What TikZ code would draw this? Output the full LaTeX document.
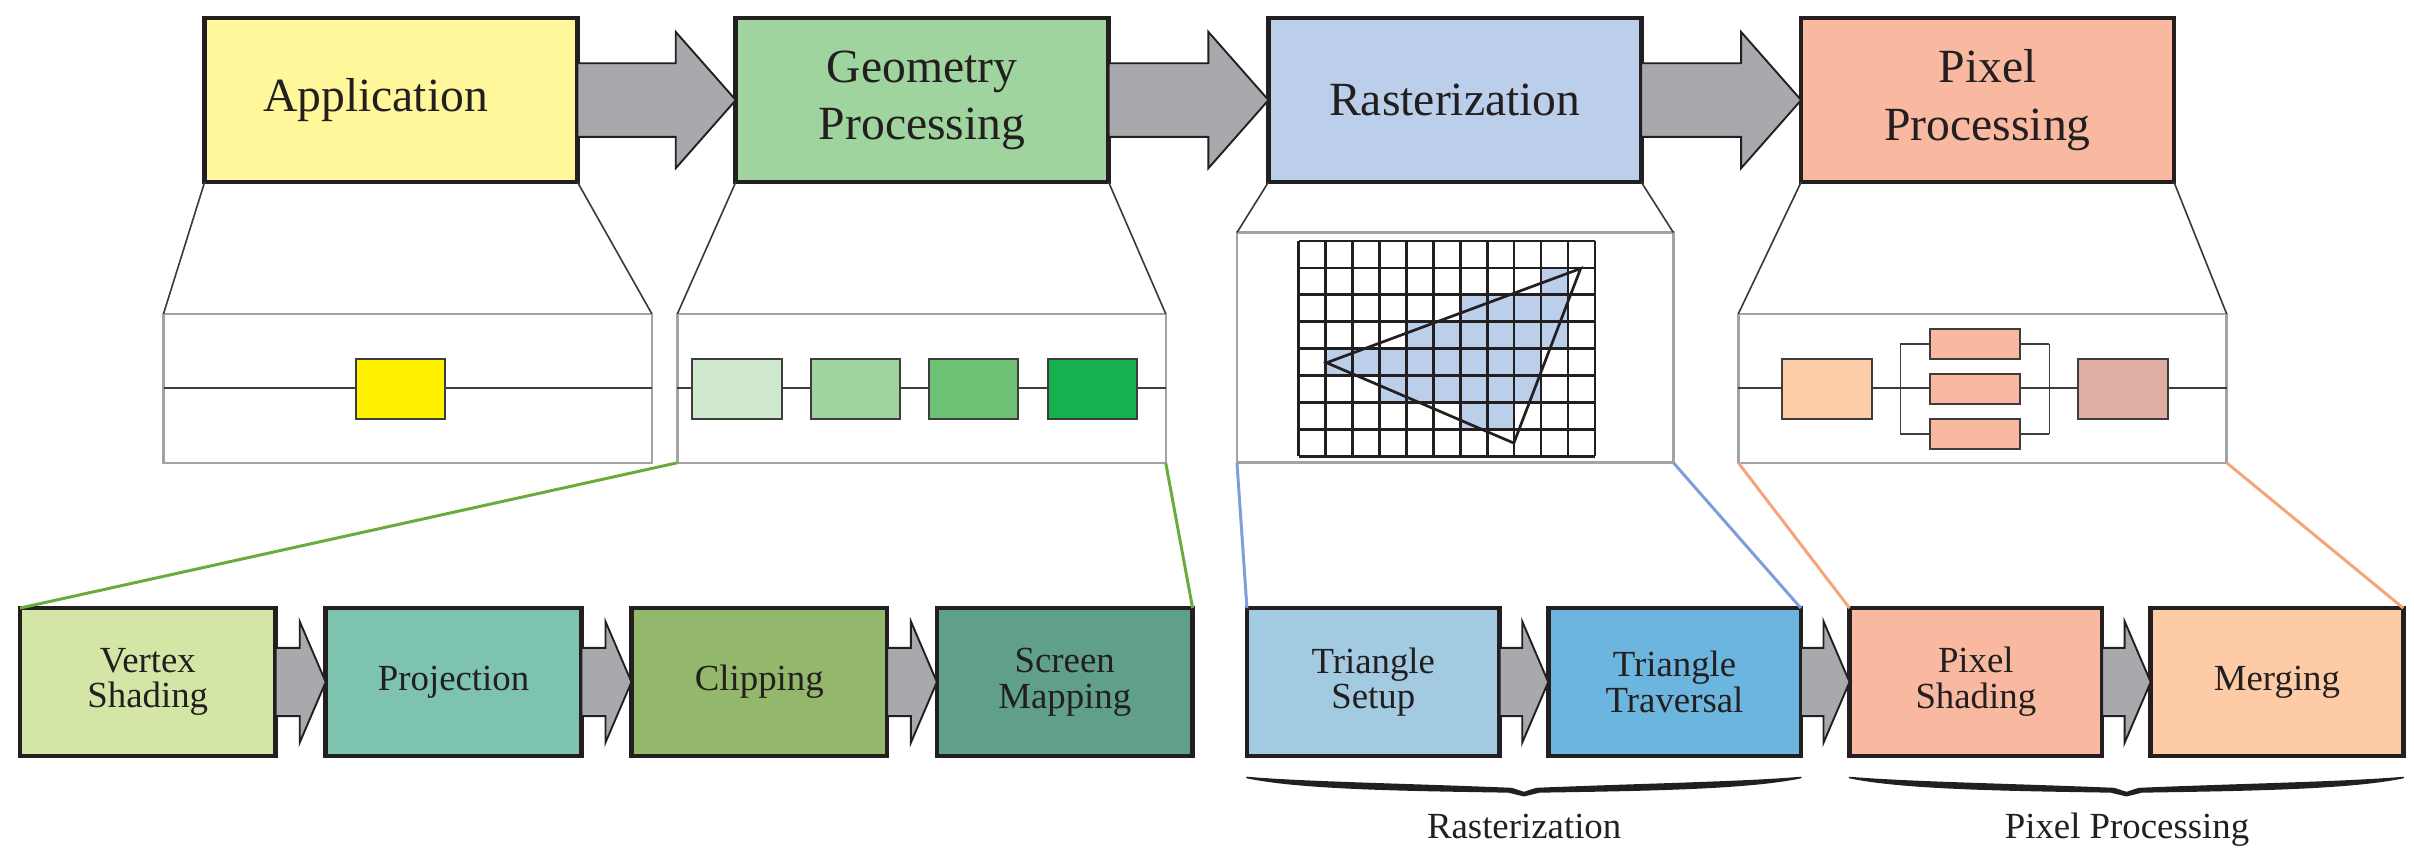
\documentclass[tikz,border=0pt]{standalone}
\usepackage{fontspec}
\setmainfont{Liberation Serif}
\usetikzlibrary{calc,decorations.pathreplacing}
\definecolor{boxline}{HTML}{231F20}
\definecolor{appfill}{HTML}{FFF799}
\definecolor{geofill}{HTML}{A0D49E}
\definecolor{rasfill}{HTML}{BCCFEA}
\definecolor{pixfill}{HTML}{F9B9A1}
\definecolor{arrowgray}{HTML}{A7A9AC}
\definecolor{detgray}{HTML}{A3A3A3}
\definecolor{inlinec}{HTML}{3D3D3D}
\definecolor{yel}{HTML}{FFF200}
\definecolor{gA}{HTML}{D0E8CD}
\definecolor{gB}{HTML}{A0D49E}
\definecolor{gC}{HTML}{6FC175}
\definecolor{gD}{HTML}{16B04E}
\definecolor{vsfill}{HTML}{D3E6A5}
\definecolor{projfill}{HTML}{7DC3AF}
\definecolor{clipfill}{HTML}{93B86B}
\definecolor{smfill}{HTML}{5F9F8B}
\definecolor{tsfill}{HTML}{A2CBE2}
\definecolor{ttfill}{HTML}{6BB5DF}
\definecolor{psfill}{HTML}{F9B8A0}
\definecolor{mgfill}{HTML}{FDCCA6}
\definecolor{pA}{HTML}{FDCDAA}
\definecolor{pB}{HTML}{F9B9A0}
\definecolor{pC}{HTML}{DEAEA2}
\definecolor{greenline}{HTML}{6AAC3C}
\definecolor{blueline}{HTML}{7E9ED9}
\definecolor{orangeline}{HTML}{F4A67A}
\definecolor{funnelc}{HTML}{3A3A3A}
\newcommand{\bigconn}[2]{\path[fatarrow] let \p1=(#1.east), \p2=(#2.west) in
  (\x1,\y1+6.8pt) -- (\x2-11.1pt,\y1+6.8pt) -- (\x2-11.1pt,\y1+12.6pt) -- (\x2,\y1)
  -- (\x2-11.1pt,\y1-12.6pt) -- (\x2-11.1pt,\y1-6.8pt) -- (\x1,\y1-6.8pt) -- cycle;}
\newcommand{\smallconn}[2]{\path[fatarrow] let \p1=(#1.east), \p2=(#2.west) in
  (\x1,\y1+6.3pt) -- (\x2-4.8pt,\y1+6.3pt) -- (\x2-4.8pt,\y1+11.2pt) -- (\x2,\y1)
  -- (\x2-4.8pt,\y1-11.2pt) -- (\x2-4.8pt,\y1-6.3pt) -- (\x1,\y1-6.3pt) -- cycle;}
% calligraphic curly brace under two nodes
\newcommand{\curlybrace}[2]{\path[bracefill] let \p1=($(#1.south west)+(0,14)$),
  \p2=($(#2.south east)+(0,14)$), \n1={(\x2-\x1)/2} in
  (\x1,\y1) .. controls (\x1+0.2*\n1,\y1-0.91pt) and (\x1+0.6*\n1,\y1-1.28pt) .. (\x1+\n1-2.28pt,\y1-2.05pt)
  -- (\x1+\n1,\y1-2.79pt) -- (\x1+\n1+2.28pt,\y1-2.05pt)
  .. controls (\x1+1.4*\n1,\y1-1.28pt) and (\x1+1.8*\n1,\y1-0.91pt) .. (\x2,\y1)
  .. controls (\x1+1.8*\n1,\y1-2.15pt) and (\x1+1.4*\n1,\y1-2.35pt) .. (\x1+\n1+2.85pt,\y1-2.65pt)
  -- (\x1+\n1,\y1-3.35pt) -- (\x1+\n1-2.85pt,\y1-2.65pt)
  .. controls (\x1+0.6*\n1,\y1-2.35pt) and (\x1+0.2*\n1,\y1-2.15pt) .. (\x1,\y1) -- cycle;}
\begin{document}
\begin{tikzpicture}[x=0.01cm,y=-0.01cm,
  topbox/.style={draw=boxline, line width=0.85pt, minimum width=2.42cm, minimum height=1.064cm,
    outer sep=0pt, inner sep=0pt, align=center, text=boxline, font=\fontsize{8.8}{10.6}\selectfont},
  lowbox/.style={draw=boxline, line width=0.85pt, minimum height=0.96cm,
    outer sep=0pt, inner sep=0pt, align=center, text=boxline, font=\fontsize{6.8}{6.6}\selectfont},
  detail/.style={draw=detgray, line width=0.45pt, fill=white, outer sep=0pt, inner sep=0pt,
    minimum width=3.17cm, minimum height=0.967cm},
  sq/.style={draw=inlinec, line width=0.35pt, outer sep=0pt, inner sep=0pt,
    minimum width=0.58cm, minimum height=0.39cm},
  smallrect/.style={draw=inlinec, line width=0.35pt, outer sep=0pt, inner sep=0pt, fill=pB,
    minimum width=0.583cm, minimum height=0.193cm},
  inline/.style={draw=inlinec, line width=0.3pt},
  funnel/.style={draw=funnelc, line width=0.3pt},
  fatarrow/.style={draw=boxline, fill=arrowgray, line width=0.35pt, line join=miter},
  gridline/.style={draw=boxline, line width=0.5pt},
  zoomline/.style={line width=0.55pt},
  bracefill/.style={fill=boxline, draw=boxline, line width=0.3pt, line join=round},
  lbl/.style={inner sep=0pt, text=boxline, font=\fontsize{6.8}{8}\selectfont}
]
\useasboundingbox (0,0) rectangle (1568,554.7);

% top row
\node[topbox, fill=appfill] (app) at (254,65) {Application\hspace*{5.7pt}};
\node[topbox, fill=geofill] (geo) at (599,65) {Geometry\\Processing};
\node[topbox, fill=rasfill] (ras) at (945,65) {Rasterization};
\node[topbox, fill=pixfill] (pix) at (1291,65) {Pixel\\Processing};
\bigconn{app}{geo}
\bigconn{geo}{ras}
\bigconn{ras}{pix}

% detail boxes
\node[detail] (appd) at (264.8,252.2) {};
\node[detail] (geod) at (598.6,252.2) {};
\node[detail, minimum width=2.833cm, minimum height=1.494cm] (rasd) at (945.2,225.8) {};
\node[detail] (pixd) at (1287.7,252.2) {};

\draw[funnel] (app.south west) -- (appd.north west);
\draw[funnel] (app.south east) -- (appd.north east);
\draw[funnel] (geo.south west) -- (geod.north west);
\draw[funnel] (geo.south east) -- (geod.north east);
\draw[funnel] (ras.south west) -- (rasd.north west);
\draw[funnel] (ras.south east) -- (rasd.north east);
\draw[funnel] (pix.south west) -- (pixd.north west);
\draw[funnel] (pix.south east) -- (pixd.north east);

% application detail
\draw[inline] (appd.west) -- (appd.east);
\node[sq, fill=yel] (a1) at (260,252.7) {};

% geometry detail
\draw[inline] (geod.west) -- (geod.east);
\node[sq, fill=gA] (g1) at (478.7,252.7) {};
\node[sq, fill=gB] (g2) at (555.7,252.7) {};
\node[sq, fill=gC] (g3) at (632.3,252.7) {};
\node[sq, fill=gD] (g4) at (709.8,252.7) {};

% rasterization detail
\foreach \c/\r in {9/1, 6/2,7/2,8/2,9/2, 4/3,5/3,6/3,7/3,8/3,9/3,
  1/4,2/4,3/4,4/4,5/4,6/4,7/4,8/4, 3/5,4/5,5/5,6/5,7/5,8/5, 6/6,7/6}
  \fill[rasfill] ({843.5+17.5*\c},{156.5+17.5*\r}) rectangle ++(17.5,17.5);
\foreach \i in {0,...,11} \draw[gridline] ({843.5+17.5*\i},156.5) -- ({843.5+17.5*\i},296.5);
\foreach \j in {0,...,8} \draw[gridline] (843.5,{156.5+17.5*\j}) -- (1036,{156.5+17.5*\j});
\draw[boxline, line width=0.5pt, line join=miter] (861.7,235.6) -- (1026.7,174.4) -- (983.3,287.8) -- cycle;

% pixel detail
\draw[inline] (pixd.west) -- (pixd.east);
\draw[inline] (1234.4,223.5) -- (1234.4,282) (1331.2,223.5) -- (1331.2,282)
  (1234.4,223.5) -- (1331.2,223.5) (1234.4,282) -- (1331.2,282);
\node[sq, fill=pA, minimum width=0.583cm] (p1) at (1186.7,252.7) {};
\node[smallrect] (p2) at (1282.8,223.5) {};
\node[smallrect] (p3) at (1282.8,252.7) {};
\node[smallrect] (p4) at (1282.8,282) {};
\node[sq, fill=pC, minimum width=0.583cm] (p5) at (1378.9,252.7) {};

% lower row
\node[lowbox, minimum width=1.66cm, fill=vsfill] (vs) at (96,443) {Vertex\\Shading};
\node[lowbox, minimum width=1.66cm, fill=projfill] (proj) at (294.6,443) {Projection};
\node[lowbox, minimum width=1.66cm, fill=clipfill] (clip) at (493.2,443) {Clipping};
\node[lowbox, minimum width=1.66cm, fill=smfill] (sm) at (691.6,443) {Screen\\Mapping};
\node[lowbox, minimum width=1.64cm, fill=tsfill] (ts) at (892,443) {Triangle\\Setup};
\node[lowbox, minimum width=1.64cm, fill=ttfill] (tt) at (1087.7,443) {Triangle\\Traversal};
\node[lowbox, minimum width=1.64cm, fill=psfill] (ps) at (1283.4,443) {Pixel\\Shading};
\node[lowbox, minimum width=1.64cm, fill=mgfill] (mg) at (1479,443) {Merging};
\smallconn{vs}{proj}
\smallconn{proj}{clip}
\smallconn{clip}{sm}
\smallconn{ts}{tt}
\smallconn{tt}{ps}
\smallconn{ps}{mg}

% zoom lines
\draw[zoomline, greenline] (geod.south west) -- (vs.north west);
\draw[zoomline, greenline] (geod.south east) -- (sm.north east);
\draw[zoomline, blueline] (rasd.south west) -- (ts.north west);
\draw[zoomline, blueline] (rasd.south east) -- (tt.north east);
\draw[zoomline, orangeline] (pixd.south west) -- (ps.north west);
\draw[zoomline, orangeline] (pixd.south east) -- (mg.north east);

% braces
\curlybrace{ts}{tt}
\curlybrace{ps}{mg}
\node[lbl, anchor=base] (rl) at (990,544.4) {Rasterization};
\node[lbl, anchor=base] (pl) at (1381.6,544.4) {Pixel Processing};
\end{tikzpicture}
\end{document}
